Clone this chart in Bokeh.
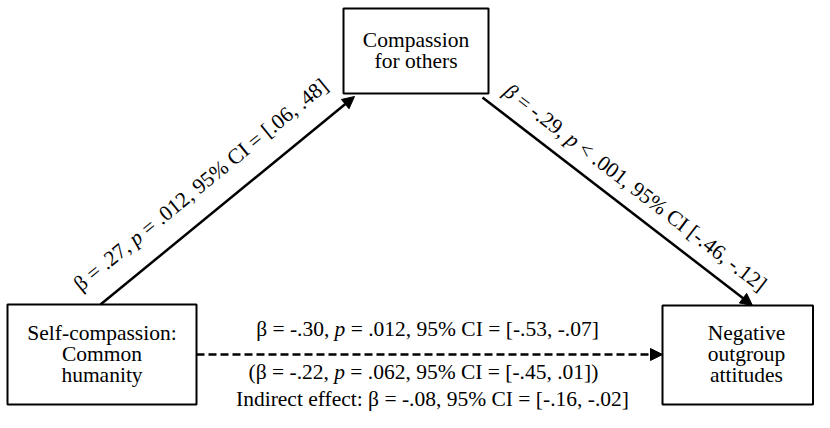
import math
from bokeh.plotting import figure
from bokeh.models import Range1d, Arrow, NormalHead
from bokeh.core.properties import value
from bokeh.embed import file_html
from bokeh.resources import INLINE

# ---------------- data ----------------
node_x_lines = ["Self-compassion:", "Common", "humanity"]
node_m_lines = ["Compassion", "for others"]
node_y_lines = ["Negative", "outgroup", "attitudes"]

# path labels as (text, style) segments: "n" = normal, "i" = italic
path_a = [("β = .27, ", "n"), ("p", "i"), (" = .012, 95% CI = [.06, .48]", "n")]
path_b = [("β", "i"), (" = -.29, ", "n"), ("p", "i"), (" < .001, 95% CI [-.46, -.12]", "n")]
path_c = [("β = -.30, ", "n"), ("p", "i"), (" = .012, 95% CI = [-.53, -.07]", "n")]
path_c_prime = [("(β = -.22, ", "n"), ("p", "i"), (" = .062, 95% CI = [-.45, .01])", "n")]
indirect_effect = ["Indirect effect: β = -.08, 95% CI = [-.16, -.02]"]

# ---------------- layout (pixels, y down) ----------------
W, H = 814, 412
FONT = "Liberation Serif"
FS = 21.5
box_x = (7, 304, 196, 404)      # left, top, right, bottom
box_m = (343, 8, 488, 93)
box_y = (662, 305, 830, 404)
RIGHT_LIMIT = 812.5

# Times metrics (per 1000 em) for offsetting mixed-style segments
TW = {' ': 250, '(': 333, ')': 333, ',': 250, '-': 333, '.': 250, '=': 564, '<': 564,
      '%': 833, '[': 333, ']': 333, ':': 278, 'C': 667, 'I': 333, 'β': 500, 'p': 500}
for d in "0123456789":
    TW[d] = 500


def seg_w(s):
    return sum(TW.get(c, 480) for c in s) * FS / 1000.0


p = figure(width=W, height=H, output_backend="svg", toolbar_location=None,
           x_range=Range1d(0, W), y_range=Range1d(-H, 0),
           x_axis_location=None, y_axis_location=None, min_border=0,
           outline_line_color=None, background_fill_color="white")
p.grid.visible = False


def Y(py):
    return -py


# boxes
for (l, t, r, b) in (box_x, box_m, box_y):
    p.quad(left=[l], right=[min(r, RIGHT_LIMIT)], top=[Y(t)], bottom=[Y(b)], fill_color=None,
           line_color="black", line_width=2)


def box_text(box, lines, lh=21, base_shift=-1):
    l, t, r, b = box
    cx = (l + r) / 2
    cy = (t + b) / 2
    n = len(lines)
    ys = [Y(cy + (i - (n - 1) / 2) * lh + base_shift) for i in range(n)]
    p.text(x=[cx] * n, y=ys, text=lines, text_font=value(FONT), text_font_size=f"{FS}px",
           text_align="center", text_baseline="alphabetic", text_color="black")


box_text(box_x, node_x_lines)
box_text(box_m, node_m_lines)
box_text(box_y, node_y_lines)


def seg_text(segs, x0, y0, angle=0.0, center=False):
    total = sum(seg_w(s) for s, _ in segs)
    ca, sa = math.cos(angle), math.sin(angle)
    off = -total / 2 if center else 0.0
    for s, st in segs:
        lead = len(s) - len(s.lstrip(" "))
        off += seg_w(" " * lead)
        body = s.strip(" ")
        p.text(x=[x0 + off * ca], y=[Y(y0) + off * sa], text=[body], angle=angle,
               text_font=value(FONT), text_font_size=f"{FS}px",
               text_font_style="italic" if st == "i" else "normal",
               text_align="left", text_baseline="alphabetic", text_color="black")
        off += seg_w(s.lstrip(" "))


# arrows
def arrow(x0, y0, x1, y1, dash="solid"):
    head = NormalHead(size=12, fill_color="black", line_color="black", line_width=1)
    p.add_layout(Arrow(end=head, x_start=x0, y_start=Y(y0), x_end=x1, y_end=Y(y1),
                       line_color="black", line_width=2.5, line_dash=dash))


a_start = (100, box_x[1])
a_end = (354, 96)
b_start = (482, 97)
b_end = (752, box_y[1])
c_y = (box_x[1] + box_x[3]) / 2
arrow(*a_start, *a_end)
arrow(*b_start, *b_end)
arrow(box_x[2], c_y, box_y[0], c_y, dash="8 4")

ang_a = math.atan2(a_start[1] - a_end[1], a_end[0] - a_start[0])
ang_b = -math.atan2(b_end[1] - b_start[1], b_end[0] - b_start[0])

seg_text(path_a, 76, 286, angle=ang_a)
seg_text(path_b, 506, 88, angle=ang_b)

seg_text(path_c, 427, 328, center=True)
seg_text(path_c_prime, 423, 371, center=True)
p.text(x=[432], y=[Y(398)], text=indirect_effect, text_font=value(FONT),
       text_font_size=f"{FS}px", text_align="center", text_baseline="alphabetic",
       text_color="black")

open("out.html", "w").write(file_html(p, INLINE))
